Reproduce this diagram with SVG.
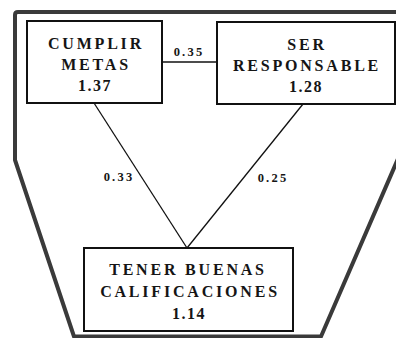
<svg xmlns="http://www.w3.org/2000/svg" width="396" height="338" viewBox="0 0 396 338">
<style>
.box{fill:#fff;stroke:#111;stroke-width:2}
.t{font-family:"Liberation Serif","Times New Roman",serif;font-weight:bold;font-size:16px;fill:#151515;text-anchor:middle;letter-spacing:2.8px}
.n{font-family:"Liberation Serif","Times New Roman",serif;font-weight:bold;font-size:16px;fill:#151515;text-anchor:middle;letter-spacing:1.5px}
.l{font-family:"Liberation Serif","Times New Roman",serif;font-weight:bold;font-size:12.5px;fill:#151515;text-anchor:middle;letter-spacing:2.2px}
.c{stroke:#111;stroke-width:1.3;fill:none}
</style>
<rect width="396" height="338" fill="#fff"/>
<path id="frame" d="M 410,12 L 18,12 Q 15,12 15,15 L 15,160 L 74,336.5 L 321,336.5 L 407,138" fill="none" stroke="#3a3a3a" stroke-width="4" stroke-linejoin="round"/>
<g id="connectors">
<line class="c" x1="162" y1="62" x2="217" y2="62"/>
<line class="c" x1="94" y1="103" x2="187" y2="248"/>
<line class="c" x1="303" y1="104" x2="187" y2="248"/>
<text class="l" x="189" y="56">0.35</text>
<text class="l" x="119" y="181">0.33</text>
<text class="l" x="273" y="182">0.25</text>
</g>
<g id="cumplir">
<rect class="box" x="27" y="21" width="135" height="82"/>
<text class="t" x="96" y="49">CUMPLIR</text>
<text class="t" x="96" y="70">METAS</text>
<text class="n" x="95" y="91">1.37</text>
</g>
<g id="ser">
<rect class="box" x="217" y="22" width="178" height="82"/>
<text class="t" x="307" y="50">SER</text>
<text class="t" x="307" y="71">RESPONSABLE</text>
<text class="n" x="306" y="92">1.28</text>
</g>
<g id="tener">
<rect class="box" x="84" y="248" width="209" height="83"/>
<text class="t" x="188" y="275">TENER BUENAS</text>
<text class="t" x="190" y="297">CALIFICACIONES</text>
<text class="n" x="189" y="319">1.14</text>
</g>
</svg>
